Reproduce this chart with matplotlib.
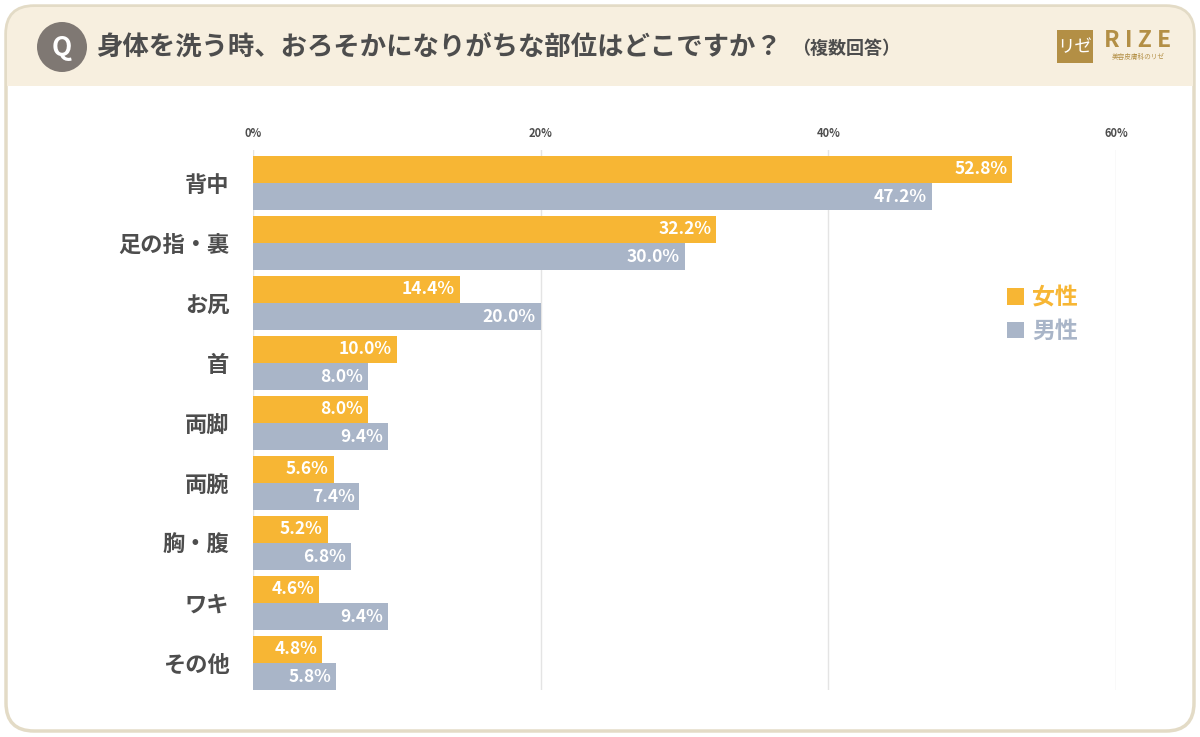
import matplotlib
matplotlib.use("Agg")
import numpy as np
import matplotlib.pyplot as plt
from matplotlib.patches import FancyBboxPatch, Circle, Rectangle

plt.rcParams['font.family'] = ['Noto Sans CJK JP', 'DejaVu Sans']

# Data
categories = ["背中", "足の指・裏", "お尻", "首", "両脚", "両腕", "胸・腹", "ワキ", "その他"]
female = [52.8, 32.2, 14.4, 10.0, 8.0, 5.6, 5.2, 4.6, 4.8]
male = [47.2, 30.0, 20.0, 8.0, 9.4, 7.4, 6.8, 9.4, 5.8]
xticks = [0, 20, 40, 60]
series_names = ["女性", "男性"]

ORANGE = "#F7B634"
GRAY = "#A9B5C8"
TEXT = "#4d4d4d"
W, H = 1200, 737

fig = plt.figure(figsize=(12, 7.37), dpi=100)
fig.patch.set_facecolor("white")

# Background frame and header
bg = fig.add_axes([0, 0, 1, 1])
bg.set_xlim(0, W)
bg.set_ylim(H, 0)
bg.axis("off")
bg.add_patch(FancyBboxPatch((6, 6), W - 12, H - 12, boxstyle="round,pad=0,rounding_size=28",
                            facecolor="white", edgecolor="#e3dbc6", linewidth=2.5))
bg.add_patch(FancyBboxPatch((7, 7), W - 14, 78, boxstyle="round,pad=0,rounding_size=27",
                            facecolor="#f7efdf", edgecolor="none"))
bg.add_patch(Rectangle((7, 50), W - 14, 36, facecolor="#f7efdf", edgecolor="none"))
bg.add_patch(Circle((62, 47), 25, facecolor="#7f7873", edgecolor="none"))
bg.text(62, 47, "Q", ha="center", va="center", color="white", fontsize=19, fontweight="bold")
bg.text(96, 47, "身体を洗う時、おろそかになりがちな部位はどこですか？", ha="left", va="center",
        color=TEXT, fontsize=19, fontweight="bold")
bg.text(792, 48, "（複数回答）", ha="left", va="center", color=TEXT, fontsize=13, fontweight="bold")

# Logo
bg.add_patch(Rectangle((1057, 30), 36, 33, facecolor="#b38f45", edgecolor="none"))
bg.text(1075, 47, "リゼ", ha="center", va="center", color="white", fontsize=12.5)
bg.text(1138, 40, "R I Z E", ha="center", va="center", color="#b38f45", fontsize=16.5, fontweight="bold")
bg.text(1138, 57, "美容皮膚科のリゼ", ha="center", va="center", color="#b38f45", fontsize=4.8)

# Chart axes
left, right = 253, 1116
top, bottom = 150, 690
ax = fig.add_axes([left / W, 1 - bottom / H, (right - left) / W, (bottom - top) / H])
ax.set_facecolor("none")

y = np.arange(len(categories))
h = 0.455
ax.barh(y - h / 2, female, height=h, color=ORANGE, label=series_names[0], zorder=3)
ax.barh(y + h / 2, male, height=h, color=GRAY, label=series_names[1], zorder=3)

for yi, v in zip(y, female):
    ax.text(v - 0.35, yi - h / 2, f"{v:.1f}%", ha="right", va="center", color="white",
            fontsize=12.5, fontweight="bold", zorder=4)
for yi, v in zip(y, male):
    ax.text(v - 0.35, yi + h / 2, f"{v:.1f}%", ha="right", va="center", color="white",
            fontsize=12.5, fontweight="bold", zorder=4)

ax.set_xlim(0, 60)
ax.set_ylim(8.45, -0.55)
ax.set_xticks(xticks)
ax.set_xticklabels([f"{t}%" for t in xticks], fontsize=8, color=TEXT, fontweight="bold")
ax.xaxis.tick_top()
ax.tick_params(axis="x", length=0, pad=7)
ax.set_yticks(y)
ax.set_yticklabels(categories, fontsize=16, color=TEXT, fontweight="bold")
ax.tick_params(axis="y", length=0, pad=17)
ax.grid(axis="x", color="#e4e4e4", linewidth=1, zorder=0)
for s in ax.spines.values():
    s.set_visible(False)

leg = ax.legend(loc="upper left", bbox_to_anchor=(0.85, 0.785), frameon=False,
                handlelength=0.75, handleheight=0.75, handletextpad=0.35, labelspacing=0.45,
                prop={"weight": "bold", "size": 16.5})
for txt, c in zip(leg.get_texts(), [ORANGE, GRAY]):
    txt.set_color(c)

fig.savefig("out.png", dpi=100)
